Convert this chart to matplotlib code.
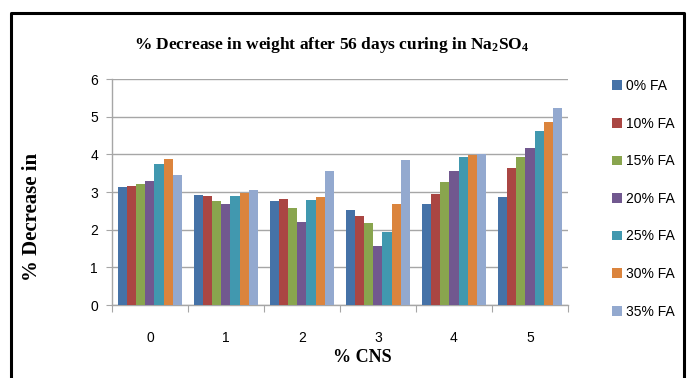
import numpy as np
import matplotlib.pyplot as plt
from matplotlib.lines import Line2D

# data
cns = ['0', '1', '2', '3', '4', '5']
series = ['0% FA', '10% FA', '15% FA', '20% FA', '25% FA', '30% FA', '35% FA']
fa0 = [3.13, 2.92, 2.76, 2.52, 2.68, 2.87]
fa10 = [3.16, 2.89, 2.81, 2.37, 2.94, 3.63]
fa15 = [3.21, 2.76, 2.57, 2.17, 3.26, 3.93]
fa20 = [3.29, 2.68, 2.20, 1.56, 3.56, 4.17]
fa25 = [3.74, 2.90, 2.78, 1.93, 3.93, 4.63]
fa30 = [3.87, 2.97, 2.87, 2.68, 3.98, 4.86]
fa35 = [3.46, 3.06, 3.55, 3.85, 4.02, 5.22]
values = [fa0, fa10, fa15, fa20, fa25, fa30, fa35]

colors = ['#4572A7', '#AA4643', '#89A54E', '#71588F', '#4198AF', '#DB843D', '#93A9CF']

tick_font = 'Liberation Sans'
serif_font = 'Liberation Serif'

# subscripts in the title should use the same serif face
plt.rcParams['mathtext.fontset'] = 'custom'
plt.rcParams['mathtext.rm'] = 'Liberation Serif:bold'
plt.rcParams['mathtext.it'] = 'Liberation Serif:bold'
plt.rcParams['mathtext.bf'] = 'Liberation Serif:bold'

fig = plt.figure(figsize=(6.91, 3.78), dpi=100)
ax = fig.add_axes([0.162, 0.193, 0.660, 0.598])

x = np.arange(len(cns))
w = 0.119
bars = []
for i, (vals, c) in enumerate(zip(values, colors)):
    b = ax.bar(x + (i - 3) * w, vals, width=w, color=c, edgecolor='none', zorder=3)
    bars.append(b)

ax.set_xlim(-0.5, len(cns) - 0.5)
ax.set_ylim(0, 6)
ax.set_yticks(range(0, 7))
ax.yaxis.grid(True, color='#A6A6A6', linewidth=1.0, zorder=0)

# category boundaries as ticks, labels in between
ax.set_xticks(np.arange(-0.5, len(cns), 1.0))
ax.set_xticklabels([])
ax.set_xticks(x, minor=True)
ax.set_xticklabels(cns, minor=True, fontfamily=tick_font, fontsize=10)
ax.tick_params(axis='x', which='major', length=5, color='#A6A6A6', direction='out')
ax.tick_params(axis='x', which='minor', length=0, pad=19)
ax.tick_params(axis='y', length=4, color='#A6A6A6', pad=6)
for lab in ax.get_yticklabels():
    lab.set_fontfamily(tick_font)
    lab.set_fontsize(10)

for s in ['top', 'right']:
    ax.spines[s].set_visible(False)
for s in ['left', 'bottom']:
    ax.spines[s].set_color('#A6A6A6')
    ax.spines[s].set_linewidth(1.0)

fig.text(0.480, 0.881, r'% Decrease in weight after 56 days curing in Na$_2$SO$_4$',
         ha='center', va='center', fontfamily=serif_font, fontweight='bold', fontsize=12.5)
fig.text(0.047, 0.426, '% Decrease in', rotation=90, ha='center', va='center',
         fontfamily=serif_font, fontweight='bold', fontsize=15)
fig.text(0.524, 0.053, '% CNS', ha='center', va='center',
         fontfamily=serif_font, fontweight='bold', fontsize=13)

leg = fig.legend(bars, series, loc='upper left', bbox_to_anchor=(0.868, 0.824),
                 frameon=False, handlelength=0.7, handleheight=0.7, handletextpad=0.3,
                 labelspacing=1.7, prop={'family': tick_font, 'size': 10})

# outer black frame (bottom edge lies off the picture)
fig.add_artist(Line2D([0.016, 0.016, 0.990, 0.990], [0.0, 0.966, 0.966, 0.0],
                      transform=fig.transFigure, color='black', linewidth=2.2))

plt.savefig('out.png', dpi=100)
